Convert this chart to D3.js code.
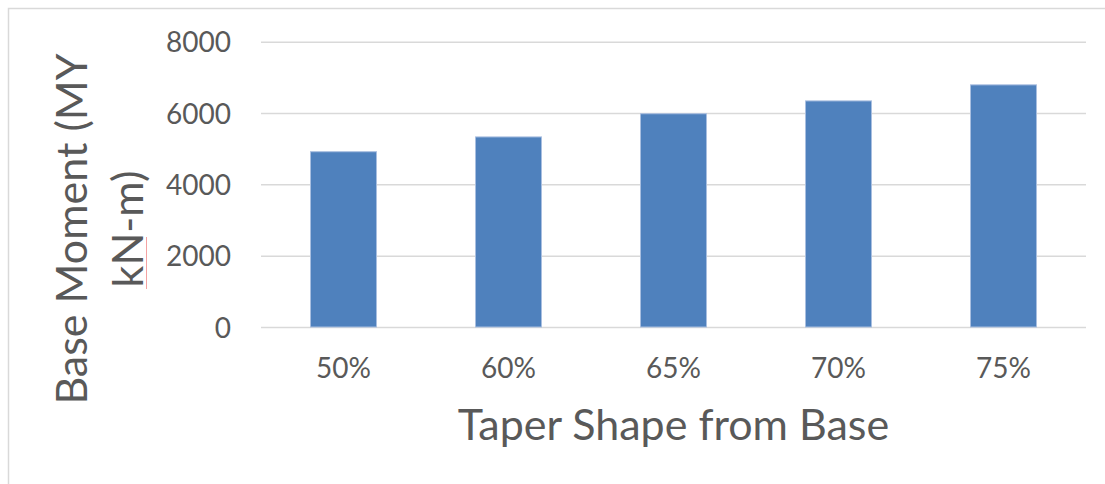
<!DOCTYPE html>
<html><head><meta charset="utf-8">
<script src="https://cdn.jsdelivr.net/npm/d3@7"></script>
<style>html,body{margin:0;padding:0;background:#fff;overflow:hidden}</style>
</head><body>
<svg id="c" width="1105" height="484"></svg>
<script>
const categories = ["50%", "60%", "65%", "70%", "75%"];
const values = [4915, 5330, 5980, 6340, 6790];
const yTicks = [0, 2000, 4000, 6000, 8000];
const xTitle = "Taper Shape from Base";
const yTitleLines = ["Base Moment (MY", "kN-m)"];

(function () {
const svg = d3.select("#c");
const font = "Lato, 'Open Sans', sans-serif";
const textColor = "#595959";

// chart border
svg.append("rect").attr("x", 8.5).attr("y", 8.5).attr("width", 1200).attr("height", 600)
  .attr("fill", "none").attr("stroke", "#d9d9d9").attr("stroke-width", 1.5);

const pL = 261, pR = 1086, pT = 41.7, pB = 327;
const x = d3.scaleBand().domain(categories).range([pL, pR]).paddingInner(0.6).paddingOuter(0.3);
const y = d3.scaleLinear().domain([0, 8000]).range([pB, pT]);

// gridlines + y labels
const yAxis = d3.axisLeft(y).tickValues(yTicks).tickSize(-(pR - pL)).tickPadding(30).tickFormat(d3.format("d"));
const gy = svg.append("g").attr("transform", `translate(${pL},0)`).call(yAxis);
gy.select(".domain").remove();
gy.selectAll(".tick line").attr("stroke", "#d9d9d9").attr("stroke-width", 1.5);
gy.selectAll(".tick text").attr("fill", textColor).attr("font-family", font).attr("font-size", 28).attr("dy", "0.36em");

// bars
svg.append("g").selectAll("rect").data(values).join("rect")
  .attr("x", (d, i) => x(categories[i]))
  .attr("y", d => y(d))
  .attr("width", x.bandwidth())
  .attr("height", d => y(0) - y(d))
  .attr("fill", "#4f81bd")
  .attr("stroke", "#a9bfe0").attr("stroke-width", 1);

// x axis labels
const xAxis = d3.axisBottom(x).tickSize(0).tickPadding(0);
const gx = svg.append("g").attr("transform", `translate(0,${pB})`).call(xAxis);
gx.select(".domain").remove();
gx.selectAll(".tick text").attr("fill", textColor).attr("font-family", font).attr("font-size", 28)
  .attr("y", 51).attr("dy", 0);

// x title
svg.append("text").attr("x", (pL + pR) / 2).attr("y", 440).attr("text-anchor", "middle")
  .attr("fill", textColor).attr("font-family", font).attr("font-size", 43).text(xTitle);

// y title
const yt = svg.append("text").attr("transform", "translate(87,229) rotate(-90)")
  .attr("text-anchor", "middle").attr("fill", textColor).attr("font-family", font).attr("font-size", 43);
yTitleLines.forEach((t, i) => yt.append("tspan").attr("x", 0).attr("y", i * 56).text(t));

// spell-check mark under "N"
svg.append("line").attr("x1", 146.5).attr("x2", 146.5).attr("y1", 237).attr("y2", 289)
  .attr("stroke", "#f4a3a3").attr("stroke-width", 1);
})();
</script>
</body></html>
